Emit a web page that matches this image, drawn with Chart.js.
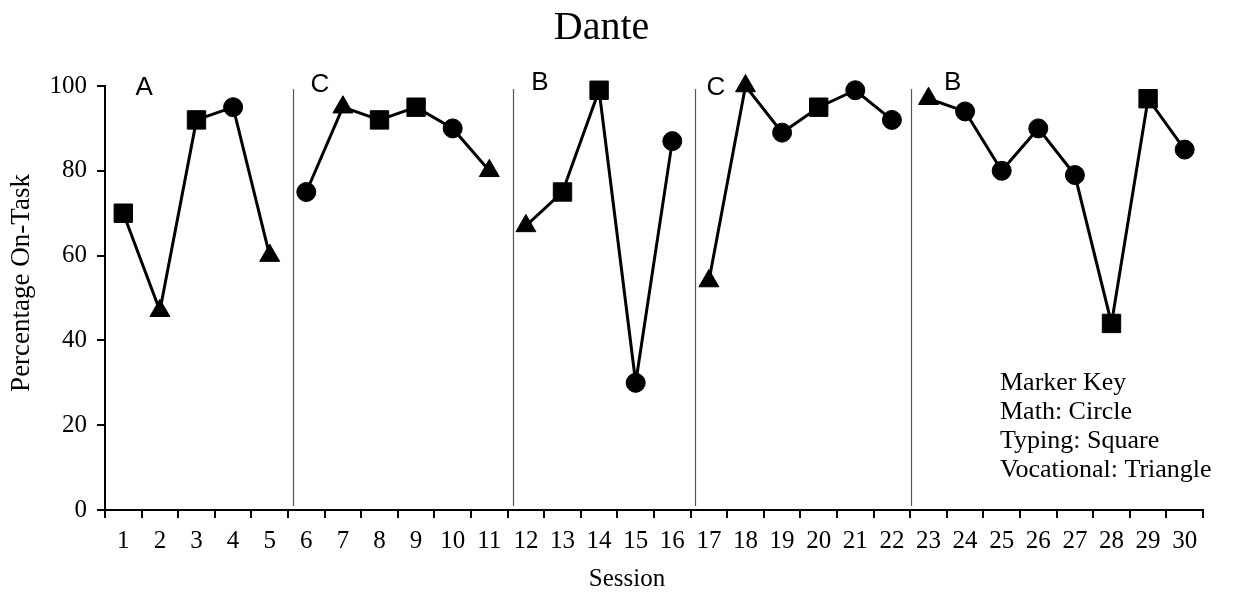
<!DOCTYPE html>
<html>
<head>
<meta charset="utf-8">
<script src="https://cdn.jsdelivr.net/npm/chart.js@4"></script>
<style>
  html, body { margin: 0; padding: 0; background: #fff; }
  #wrap { width: 1240px; height: 593px; }
</style>
</head>
<body>
<div id="wrap"><canvas id="chart"></canvas></div>
<script>
// data
const sessions = ['1','2','3','4','5','6','7','8','9','10','11','12','13','14','15',
  '16','17','18','19','20','21','22','23','24','25','26','27','28','29','30'];
const onTask = [70, 47, 92, 95, 60, 75, 95, 92, 95, 90, 80, 67, 75, 99, 30,
  87, 54, 100, 89, 95, 99, 92, 97, 94, 80, 90, 79, 44, 97, 85];
const activity = ['typing','vocational','typing','math','vocational',
  'math','vocational','typing','typing','math','vocational',
  'vocational','typing','typing','math','math',
  'vocational','vocational','math','typing','math','math',
  'vocational','math','math','math','math','typing','typing','math'];
const phaseNames = ['A', 'C', 'B', 'C', 'B'];
const phaseLast = [5, 11, 16, 22, 30];   // last session of each phase
const yTicks = [0, 20, 40, 60, 80, 100];
const markerKey = ['Marker Key', 'Math: Circle', 'Typing: Square', 'Vocational: Triangle'];

const SERIF = "'Liberation Serif', 'Times New Roman', serif";

const styleOf = { math: 'circle', typing: 'rect', vocational: 'triangle' };
const radiusOf = { math: 9.5, typing: 13, vocational: 11.5 };

// one line per phase so the path breaks at each phase change
let start = 0;
const datasets = phaseLast.map((last, p) => {
  const from = start;
  start = last;
  return {
    label: phaseNames[p],
    data: onTask.map((v, i) => (i >= from && i < last) ? v : null),
    borderColor: '#000',
    backgroundColor: '#000',
    borderWidth: 3,
    pointStyle: activity.map(a => styleOf[a]),
    pointRadius: activity.map(a => radiusOf[a]),
    pointBorderWidth: 1,
    pointBackgroundColor: '#000',
    pointBorderColor: '#000',
    spanGaps: false,
    clip: false
  };
});

// phase lines, phase letters, axis titles and the marker key
const phasePlugin = {
  id: 'phases',
  afterDatasetsDraw(chart) {
    const { ctx, chartArea, scales: { x } } = chart;
    ctx.save();
    ctx.strokeStyle = '#555';
    ctx.lineWidth = 1.2;
    const lineShift = [0.36, 0.35, 0.38, 0.48];
    phaseLast.slice(0, -1).forEach((last, i) => {
      const px = Math.round(x.getPixelForValue(last - lineShift[i])) + 0.5;
      ctx.beginPath();
      ctx.moveTo(px, chartArea.top + 3);
      ctx.lineTo(px, chartArea.bottom - 4);
      ctx.stroke();
    });

    const labelX = [0.57, 5.37, 11.38, 16.19, 22.66];
    const labelDy = [2, -1, -3, 2, -3];
    ctx.fillStyle = '#000';
    ctx.font = "26px 'Liberation Sans', Arial, sans-serif";
    ctx.textAlign = 'center';
    ctx.textBaseline = 'middle';
    phaseNames.forEach((name, i) => {
      ctx.fillText(name, x.getPixelForValue(labelX[i]), chartArea.top + labelDy[i]);
    });

    // axis titles sit where the reference has them, a little off centre
    ctx.font = '25px ' + SERIF;
    ctx.fillText('Session', 627, 579);
    ctx.save();
    ctx.translate(22, 283);
    ctx.rotate(-Math.PI / 2);
    ctx.font = '27px ' + SERIF;
    ctx.fillText('Percentage On-Task', 0, 0);
    ctx.restore();

    ctx.font = '26px ' + SERIF;
    ctx.textAlign = 'left';
    markerKey.forEach((line, i) => {
      ctx.fillText(line, chartArea.right - 203, 383 + i * 29);
    });
    ctx.restore();
  }
};

new Chart(document.getElementById('chart'), {
  type: 'line',
  data: { labels: sessions, datasets },
  plugins: [phasePlugin],
  options: {
    responsive: true,
    maintainAspectRatio: false,
    animation: false,
    layout: { padding: { left: 0, right: 37, top: 0, bottom: 0 } },
    plugins: {
      legend: { display: false },
      tooltip: { enabled: false },
      title: {
        display: true,
        text: 'Dante',
        color: '#000',
        font: { family: SERIF, size: 40, weight: 'normal' },
        padding: { top: 4, bottom: 34 }
      }
    },
    scales: {
      x: {
        type: 'category',
        offset: true,
        grid: { display: true, offset: true, drawOnChartArea: false, drawTicks: true, tickLength: 8, color: '#000', lineWidth: 2 },
        border: { display: true, color: '#000', width: 2 },
        ticks: { color: '#000', font: { family: SERIF, size: 25 }, padding: 8, maxRotation: 0, autoSkip: false },
        afterFit(scale) { scale.height = 83; }
      },
      y: {
        min: 0,
        max: 100,
        afterBuildTicks(scale) { scale.ticks = yTicks.map(v => ({ value: v })); },
        grid: { display: true, drawOnChartArea: false, drawTicks: true, tickLength: 8, color: '#000', lineWidth: 2 },
        border: { display: true, color: '#000', width: 2 },
        ticks: { color: '#000', font: { family: SERIF, size: 25 }, padding: 10 },
        afterFit(scale) { scale.width = 105; }
      }
    }
  }
});
</script>
</body>
</html>
